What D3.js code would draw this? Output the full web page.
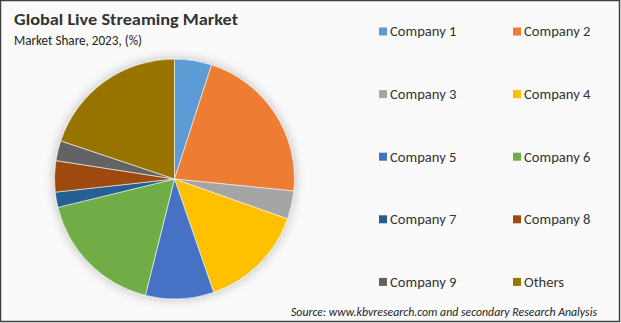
<!DOCTYPE html>
<html>
<head>
<meta charset="utf-8">
<script src="https://cdn.jsdelivr.net/npm/d3@7"></script>
<style>
  html, body { margin: 0; padding: 0; background: #fff; }
  svg { display: block; }
</style>
</head>
<body>
<svg id="chart" width="621" height="323"></svg>
<script>
const categories = ["Company 1", "Company 2", "Company 3", "Company 4", "Company 5",
                    "Company 6", "Company 7", "Company 8", "Company 9", "Others"];
const shares = [5.0, 21.6, 3.8, 14.3, 9.2, 17.3, 2.05, 4.2, 2.7, 19.85];
const colors = ["#5B9BD5", "#ED7D31", "#A5A5A5", "#FFC000", "#4472C4",
                "#70AD47", "#255E91", "#9E480E", "#636363", "#997300"];
const title = "Global Live Streaming Market";
const subtitle = "Market Share, 2023, (%)";
const source = "Source: www.kbvresearch.com and secondary Research Analysis";

const W = 621, H = 323;
const svg = d3.select("#chart");
const font = "Carlito, 'Liberation Sans', Arial, sans-serif";

svg.append("rect").attr("x", 0).attr("y", 0).attr("width", W).attr("height", H).attr("fill", "#fafafa");
svg.append("rect").attr("x", 0.5).attr("y", 0.5).attr("width", W - 2).attr("height", H - 2)
  .attr("fill", "none").attr("stroke", "#404040").attr("stroke-width", 1.5);

const defs = svg.append("defs");
const f = defs.append("filter").attr("id", "shadow").attr("x", "-20%").attr("y", "-20%").attr("width", "140%").attr("height", "140%");
f.append("feGaussianBlur").attr("in", "SourceAlpha").attr("stdDeviation", 6);
f.append("feComponentTransfer").append("feFuncA").attr("type", "linear").attr("slope", 0.25);
const m = f.append("feMerge");
m.append("feMergeNode");
m.append("feMergeNode").attr("in", "SourceGraphic");

svg.append("text").attr("x", 14).attr("y", 25).text(title)
  .attr("font-family", font).attr("font-weight", "bold").attr("font-size", 16.5).attr("fill", "#333")
  .attr("textLength", 224).attr("lengthAdjust", "spacingAndGlyphs");
svg.append("text").attr("x", 14).attr("y", 45).text(subtitle)
  .attr("font-family", font).attr("font-size", 13.5).attr("fill", "#222")
  .attr("textLength", 128).attr("lengthAdjust", "spacingAndGlyphs");

const cx = 174.5, cy = 179, r = 120;
const pie = d3.pie().value(d => d.v).sort(null);
const arc = d3.arc().innerRadius(0).outerRadius(r);
const data = categories.map((c, i) => ({ c, v: shares[i], col: colors[i] }));

const g = svg.append("g").attr("transform", `translate(${cx},${cy})`).attr("filter", "url(#shadow)");
g.selectAll("path").data(pie(data)).join("path")
  .attr("d", arc).attr("fill", d => d.data.col)
  .attr("stroke", "#fafafa").attr("stroke-width", 0.6);

const legend = svg.append("g");
const colX = [379, 513];
const rowY0 = 31.5, rowDy = 62.6;
data.forEach((d, i) => {
  const x = colX[i % 2], y = rowY0 + Math.floor(i / 2) * rowDy;
  const lg = legend.append("g");
  lg.append("rect").attr("x", x).attr("y", y - 4).attr("width", 8).attr("height", 8).attr("fill", d.col);
  lg.append("text").attr("x", x + 11).attr("y", y + 4.8).text(d.c)
    .attr("font-family", font).attr("font-size", 14.6).attr("fill", "#333");
});

svg.append("text").attr("x", 291).attr("y", 316).text(source)
  .attr("font-family", font).attr("font-style", "italic").attr("font-size", 11.5).attr("fill", "#222")
  .attr("textLength", 306).attr("lengthAdjust", "spacingAndGlyphs");
</script>
</body>
</html>
